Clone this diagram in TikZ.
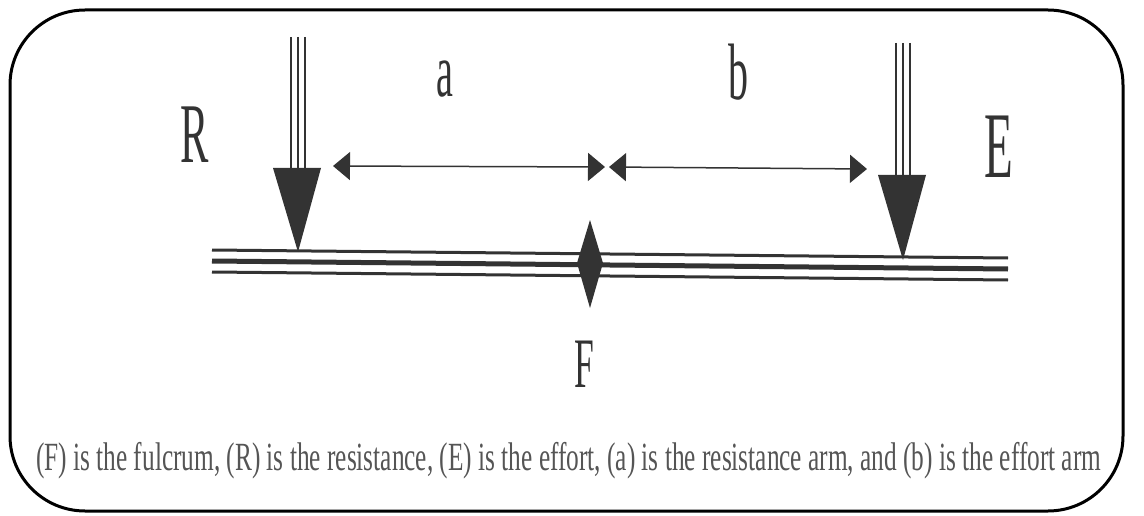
\documentclass[tikz,border=0pt]{standalone}
\usepackage{fontspec}
\setmainfont{Liberation Serif}[FakeStretch=0.5]
\newfontfamily\captionfont{Liberation Serif}[FakeStretch=0.633]
\usetikzlibrary{arrows.meta}
\definecolor{inkgray}{HTML}{333333}
\definecolor{captiongray}{HTML}{555555}

\begin{document}
\begin{tikzpicture}[x=1pt,y=-1pt,>={Triangle[length=17pt,width=28pt]},
  beamline/.style={inkgray,line width=3pt},
  shaftline/.style={inkgray,line width=1.6pt},
  letter/.style={inkgray,anchor=base,inner sep=0pt}]
  \useasboundingbox (0,0) rectangle (1144,516);
  % Balken
  \draw[beamline] (212,250) -- (1008,258);
  \draw[beamline,line width=5pt] (212,261) -- (1008,269);
  \draw[beamline] (212,272) -- (1008,280);
  % Kraefte
  \foreach \x/\top/\head/\tip in {298/37/168/252, 903/43/175/260} {
    \foreach \d in {-7,0,7}
      \draw[shaftline] ({\x+\d},\top) -- ({\x+\d},\head);
    \fill[inkgray] ({\x-25},\head) -- ({\x+23},\head) -- (\x,\tip) -- cycle;
  }
  % Drehpunkt
  \fill[inkgray] (590,220) -- (603,263) -- (590,308) -- (577,263) -- cycle;
  % Hebelarme
  \coordinate (aL) at (333,166);
  \coordinate (aR) at (605,167);
  \coordinate (bL) at (609,167);
  \coordinate (bR) at (867,169);
  \draw[<->,inkgray,line width=1.5pt] (aL) -- (aR);
  \draw[<->,inkgray,line width=1.5pt] (bL) -- (bR);
  % Beschriftung
  \node[letter,font=\fontsize{85}{85}\selectfont] (R) at (195,163) {R};
  \node[letter,font=\fontsize{94}{94}\selectfont] (E) at (999,178) {E};
  \node[letter,font=\fontsize{71}{71}\selectfont] (F) at (584,387) {F};
  \node[letter,font=\fontsize{76}{76}\selectfont] (a) at (445,97) {a};
  \node[letter,font=\fontsize{80}{80}\selectfont] (b) at (738,100) {b};
  \begin{scope}
    \clip[rounded corners=75pt] (10,10) rectangle (1123,511);
    \node[anchor=base west,inner sep=0pt,captiongray,
      font=\captionfont\fontsize{40}{40}\selectfont] (caption) at (36,470)
      {(F) is the fulcrum, (R) is the resistance, (E) is the effort, (a) is the resistance arm, and (b) is the effort arm};
  \end{scope}
  % Rahmen
  \draw[line width=3pt,rounded corners=75pt] (10,10) rectangle (1123,511);
\end{tikzpicture}
\end{document}
